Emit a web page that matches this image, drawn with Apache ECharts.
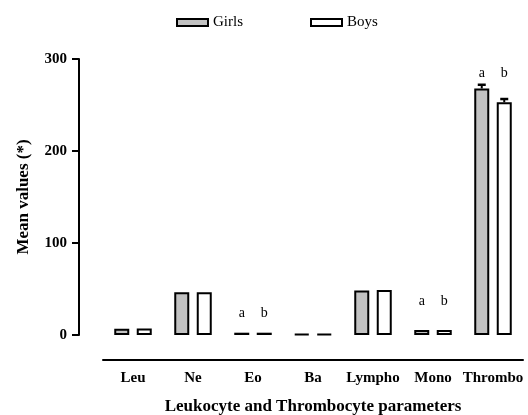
<!DOCTYPE html>
<html>
<head>
<meta charset="utf-8">
<script src="https://cdn.jsdelivr.net/npm/echarts@6/dist/echarts.min.js"></script>
<style>
  html, body { margin: 0; padding: 0; background: #fff; }
  #chart { width: 528px; height: 415px; }
</style>
</head>
<body>
<div id="chart"></div>
<script>
// values
const categories = ['Leu', 'Ne', 'Eo', 'Ba', 'Lympho', 'Mono', 'Thrombo'];
const girls = [6.8, 46.5, 2.5, 1.0, 48.5, 5.5, 268];
const boys = [7.0, 46.5, 2.5, 1.0, 49.0, 5.5, 253];
const girlsErr = [0, 0, 0, 0, 0, 0, 4];
const boysErr = [0, 0, 0, 0, 0, 0, 3.5];
// significance letters and the height they sit at
const girlsMark = ['', '', 'a', '', '', 'a', 'a'];
const boysMark = ['', '', 'b', '', '', 'b', 'b'];
const markY = [null, null, 24, null, null, 37, 284];
const yTicks = [0, 100, 200, 300];

const serif = '"Liberation Serif", "Times New Roman", serif';
const chart = echarts.init(document.getElementById('chart'));

// girls bar sits left of the category centre, boys right
function errSeries(name, values, errs, side) {
    return {
        name: name + ' err',
        type: 'custom',
        z: 5,
        silent: true,
        data: values.map((v, i) => [i, v, errs[i]]),
        renderItem: (params, api) => {
            if (!api.value(2)) return null;
            const band = api.size([1, 0])[0];
            const shift = side * band * 11.25 / 60;
            const top = api.coord([api.value(0), api.value(1)]);
            const hi = api.coord([api.value(0), api.value(1) + api.value(2)]);
            const x = top[0] + shift;
            return {
                type: 'group',
                children: [
                    { type: 'line', shape: { x1: x, y1: top[1], x2: x, y2: hi[1] }, style: { stroke: '#000', lineWidth: 2 } },
                    { type: 'line', shape: { x1: x - 4, y1: hi[1], x2: x + 4, y2: hi[1] }, style: { stroke: '#000', lineWidth: 2.5 } }
                ]
            };
        }
    };
}

function markSeries(marks, side) {
    return {
        type: 'custom',
        silent: true,
        data: markY.map((y, i) => [i, y, marks[i]]),
        renderItem: (params, api) => {
            const txt = marks[params.dataIndex];
            if (!txt) return null;
            const band = api.size([1, 0])[0];
            const p = api.coord([api.value(0), api.value(1)]);
            return {
                type: 'text',
                style: {
                    x: p[0] + side * band * 11.25 / 60,
                    y: p[1],
                    text: txt,
                    align: 'center',
                    verticalAlign: 'middle',
                    font: '14px ' + serif,
                    fill: '#000'
                }
            };
        }
    };
}

chart.setOption({
    animation: false,
    backgroundColor: '#fff',
    textStyle: { fontFamily: serif, color: '#000' },
    legend: {
        top: 10,
        left: 171,
        itemWidth: 31,
        itemHeight: 7,
        itemGap: 67,
        icon: 'rect',
        data: ['Girls', 'Boys'],
        textStyle: { fontFamily: serif, fontSize: 15, color: '#000' },
        itemStyle: { borderColor: '#000', borderWidth: 2 }
    },
    grid: { left: 103, right: 5, top: 59, bottom: 80, outerBoundsMode: 'none', containLabel: false },
    xAxis: {
        type: 'category',
        data: categories,
        offset: 25,
        name: 'Leukocyte and Thrombocyte parameters',
        nameLocation: 'middle',
        nameGap: 38,
        nameTextStyle: { fontFamily: serif, fontWeight: 'bold', fontSize: 17, color: '#000' },
        axisLine: { onZero: false, lineStyle: { color: '#000', width: 2 } },
        axisTick: { alignWithLabel: true, length: 6, lineStyle: { color: '#000', width: 2 } },
        axisLabel: { interval: 0, hideOverlap: false, fontFamily: serif, fontWeight: 'bold', fontSize: 15, color: '#000', margin: 11 }
    },
    yAxis: {
        type: 'value',
        min: yTicks[0],
        max: yTicks[yTicks.length - 1],
        interval: 100,
        offset: 24,
        name: 'Mean values (*)',
        nameLocation: 'middle',
        nameGap: 47,
        nameTextStyle: { fontFamily: serif, fontWeight: 'bold', fontSize: 17, color: '#000' },
        axisLine: { show: true, lineStyle: { color: '#000', width: 2 } },
        axisTick: { show: true, length: 7, lineStyle: { color: '#000', width: 2 } },
        axisLabel: { fontFamily: serif, fontWeight: 'bold', fontSize: 15, color: '#000', margin: 12 },
        splitLine: { show: false }
    },
    series: [
        {
            name: 'Girls',
            type: 'bar',
            data: girls,
            barWidth: 15,
            barGap: '50%',
            itemStyle: { color: '#c2c2c2', borderColor: '#000', borderWidth: 2 }
        },
        {
            name: 'Boys',
            type: 'bar',
            data: boys,
            barWidth: 15,
            itemStyle: { color: '#fff', borderColor: '#000', borderWidth: 2 }
        },
        errSeries('Girls', girls, girlsErr, -1),
        errSeries('Boys', boys, boysErr, 1),
        markSeries(girlsMark, -1),
        markSeries(boysMark, 1)
    ]
});
</script>
</body>
</html>
